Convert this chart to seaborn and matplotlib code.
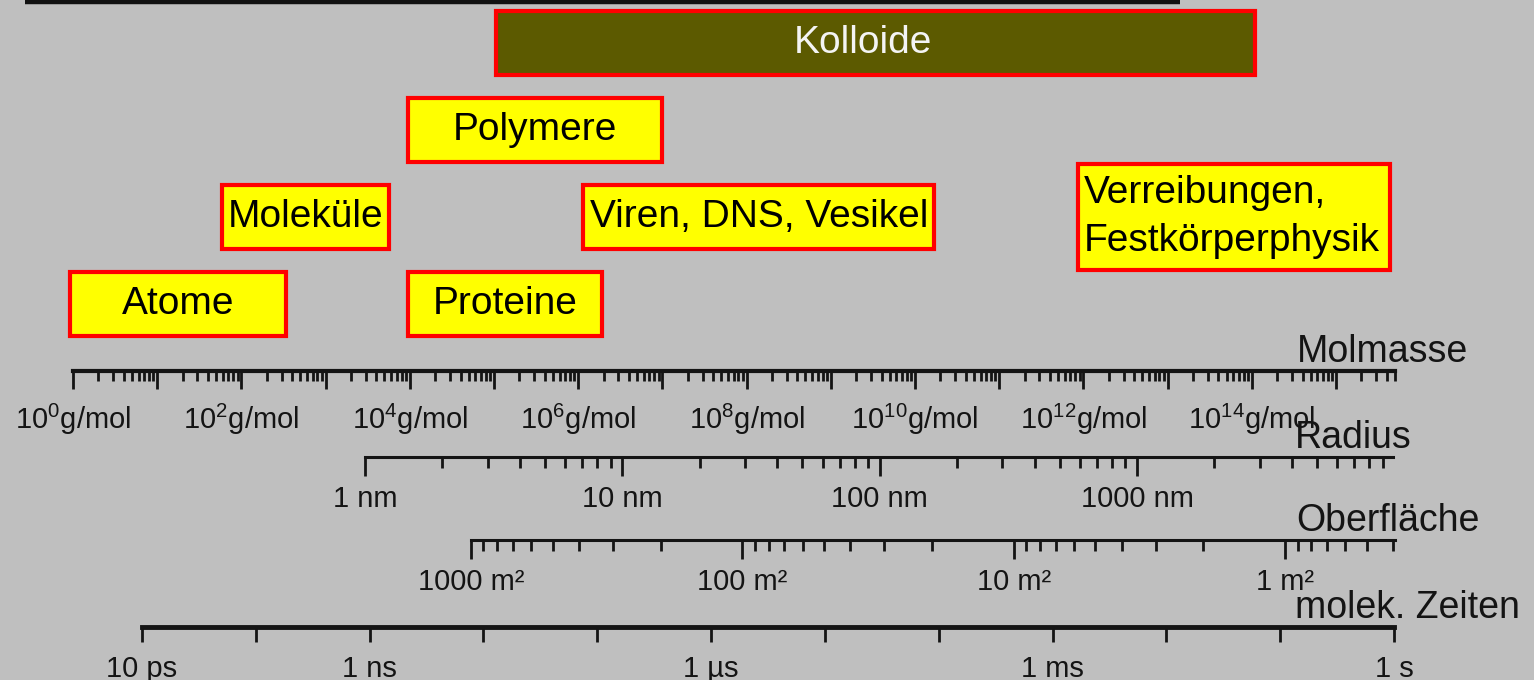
import numpy as np
import matplotlib
matplotlib.use("Agg")
import matplotlib.pyplot as plt
import seaborn as sns
from matplotlib.ticker import LogLocator, FixedLocator, FixedFormatter, NullLocator

# Größenskalen der Kolloidchemie: Bereiche in log10(Molmasse / g/mol)
kategorien = ["Atome", "Moleküle", "Proteine", "Polymere", "Viren, DNS, Vesikel",
              "Verreibungen,\nFestkörperphysik", "Kolloide"]
log_masse_min = [-0.04, 1.77, 3.98, 3.98, 6.06, 11.94, 5.02]
log_masse_max = [2.53, 3.75, 6.28, 7.00, 10.23, 15.64, 14.04]
ebene = [0, 1, 0, 2, 1, 1, 3]
linksbuendig = [False, False, False, False, False, True, False]

# Rahmenlinie oben (abgeschnitten im Original)
rahmen_log_masse = [-0.57, 13.15]
rahmen_ebene = 3.47

# Skalen
molmasse_exp = list(range(0, 16))
molmasse_label_exp = [0, 2, 4, 6, 8, 10, 12, 14]
molmasse_bereich = (1.0, 10 ** 15.70)

radius_ticks = [1, 10, 100, 1000]
radius_labels = ["1 nm", "10 nm", "100 nm", "1000 nm"]
radius_bereich = (1.0, 10 ** 3.995)

flaeche_ticks = [1000, 100, 10, 1]
flaeche_labels = ["1000 m²", "100 m²", "10 m²", "1 m²"]
flaeche_bereich = (1000.0, 10 ** -0.405)

zeit_ticks = [10.0 ** e for e in range(-11, 1)]
zeit_labels = ["10 ps", "", "1 ns", "", "", "1 µs", "", "", "1 ms", "", "", "1 s"]
zeit_bereich = (1e-11, 1.0)

W, H = 1534, 680
GRAU = "#bfbfbf"
TINTE = "#141414"

sns.set_theme(style="white")
plt.rcParams["font.family"] = ["Liberation Sans", "DejaVu Sans"]
plt.rcParams["mathtext.fontset"] = "custom"
plt.rcParams["mathtext.rm"] = "Liberation Sans"
plt.rcParams["mathtext.it"] = "Liberation Sans"
plt.rcParams["mathtext.bf"] = "Liberation Sans:bold"

fig = plt.figure(figsize=(W / 100, H / 100), dpi=100)
fig.patch.set_facecolor(GRAU)

# Diagramm-Achse für die Kästen (gleiche Abbildung wie Molmassen-Skala)
ax = fig.add_axes([0, 0, 1, 1])
ax.set_xscale("log")
ax.set_xlim(10 ** (-73 / 84.2), 10 ** ((W - 73) / 84.2))
ax.set_ylim(-4.322, 3.494)
ax.axis("off")

ax.hlines(rahmen_ebene, 10 ** rahmen_log_masse[0], 10 ** rahmen_log_masse[1],
          color="#111111", linewidth=3.2, clip_on=False)

for name, lo, hi, lvl, links in zip(kategorien, log_masse_min, log_masse_max, ebene, linksbuendig):
    zeilen = name.count("\n") + 1
    hoehe = 0.736 + 0.48 * (zeilen - 1)
    kolloid = name == "Kolloide"
    ax.barh(lvl, 10 ** hi - 10 ** lo, left=10 ** lo, height=hoehe,
            color="#5c5a00" if kolloid else "#ffff00",
            edgecolor="#ff0000", linewidth=3.0)
    if links:
        ax.annotate(name, xy=(10 ** lo, lvl), xytext=(4, 0), textcoords="offset points",
                    ha="left", va="center", fontsize=28, linespacing=1.42, color="black")
    elif kolloid:
        ax.annotate(name, xy=(10 ** ((lo + hi) / 2), lvl), xytext=(-9, 0),
                    textcoords="offset points", ha="center", va="center",
                    fontsize=28, color="#f4f4f4")
    else:
        ax.text(10 ** ((lo + hi) / 2), lvl, name, ha="center", va="center", fontsize=28,
                color="black")


def skala(x0, x1, y, bereich, titel, lw, major_len, pad, minor=True):
    a = fig.add_axes([x0 / W, 1 - y / H, (x1 - x0) / W, 1e-4])
    a.set_facecolor("none")
    for s in ["top", "left", "right"]:
        a.spines[s].set_visible(False)
    a.spines["bottom"].set_linewidth(lw)
    a.spines["bottom"].set_color(TINTE)
    a.set_xscale("log")
    a.set_xlim(bereich)
    a.set_yticks([])
    a.tick_params(axis="x", which="both", bottom=True, top=False, direction="out")
    a.tick_params(axis="x", which="major", length=major_len, width=2.0,
                  labelsize=21, pad=pad, color=TINTE, labelcolor=TINTE)
    a.tick_params(axis="x", which="minor", length=major_len * 0.55, width=2.0, color=TINTE)
    if minor:
        a.xaxis.set_minor_locator(LogLocator(base=10, subs=np.arange(2, 10), numticks=200))
    else:
        a.xaxis.set_minor_locator(NullLocator())
    a.annotate(titel, xy=(1, 0), xycoords="axes fraction", xytext=(-71, 6.5),
               textcoords="offset points", ha="left", va="baseline", fontsize=27,
               color=TINTE)
    return a


a1 = skala(73, 1395, 371, molmasse_bereich, "Molmasse", 3.0, 13, 9)
a1.xaxis.set_major_locator(FixedLocator([10.0 ** e for e in molmasse_exp]))
a1.xaxis.set_major_formatter(FixedFormatter(
    [f"$10^{{{e}}}$g/mol" if e in molmasse_label_exp else "" for e in molmasse_exp]))

a2 = skala(365, 1393, 457, radius_bereich, "Radius", 2.2, 14, 6)
a2.xaxis.set_major_locator(FixedLocator(radius_ticks))
a2.xaxis.set_major_formatter(FixedFormatter(radius_labels))

a3 = skala(471, 1395, 540, flaeche_bereich, "Oberfläche", 2.2, 14, 6)
a3.xaxis.set_major_locator(FixedLocator(flaeche_ticks))
a3.xaxis.set_major_formatter(FixedFormatter(flaeche_labels))

a4 = skala(142, 1394, 627, zeit_bereich, "molek. Zeiten", 3.5, 11, 9, minor=False)
a4.xaxis.set_major_locator(FixedLocator(zeit_ticks))
a4.xaxis.set_major_formatter(FixedFormatter(zeit_labels))

fig.savefig("out.png", dpi=100, facecolor=GRAU)
